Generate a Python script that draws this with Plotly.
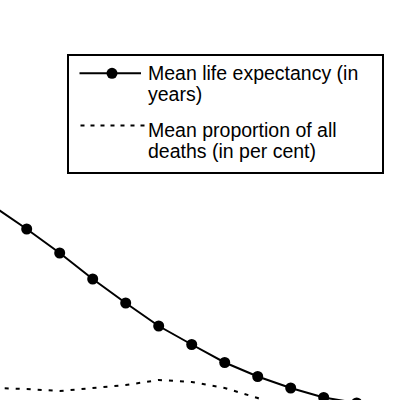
import plotly.graph_objects as go

# ---- data ----
period = [0, 1, 2, 3, 4, 5, 6, 7, 8, 9, 10, 11]
life_expectancy = [40.7, 36.2, 31.4, 26.2, 21.4, 16.8, 13.1, 9.5, 6.7, 4.4, 2.5, 1.4]
death_share = [6.2, 6.1, 5.9, 6.2, 6.5, 7.0, 6.8, 6.2, 5.2, 3.8, 3.2, 2.9]

legend_life = ["Mean life expectancy (in", "years)"]
legend_share = ["Mean proportion of all", "deaths (in per cent)"]

W, H = 400, 400
FONT = dict(family="Liberation Sans, Arial, sans-serif", size=19.5, color="black")

fig = go.Figure()
fig.add_trace(go.Scatter(
    x=period, y=life_expectancy, mode="lines+markers",
    line=dict(color="black", width=2),
    marker=dict(color="black", size=11),
    name=" ".join(legend_life), showlegend=False,
))
fig.add_trace(go.Scatter(
    x=period, y=death_share, mode="lines", yaxis="y2",
    line=dict(color="black", width=2, dash="4px,7px"),
    name=" ".join(legend_share), showlegend=False,
))

def px(x):
    return x / W

def py(y):
    return 1 - y / H

# ---- hand-drawn legend box ----
shapes = [
    dict(type="rect", xref="paper", yref="paper",
         x0=px(68), x1=px(383), y0=py(173), y1=py(55),
         line=dict(color="black", width=2), fillcolor="white", layer="above"),
    dict(type="line", xref="paper", yref="paper",
         x0=px(79.5), x1=px(141), y0=py(73.3), y1=py(73.3),
         line=dict(color="black", width=2), layer="above"),
    dict(type="circle", xref="paper", yref="paper",
         x0=px(112 - 5.5), x1=px(112 + 5.5), y0=py(73.3 - 5.5), y1=py(73.3 + 5.5),
         line=dict(color="black", width=0), fillcolor="black", layer="above"),
    dict(type="line", xref="paper", yref="paper",
         x0=px(80.5), x1=px(145), y0=py(125.5), y1=py(125.5),
         line=dict(color="black", width=2, dash="4px,6px"), layer="above"),
]

annotations = []
for text, yc in [(legend_life[0], 72.5), (legend_life[1], 93.5),
                 (legend_share[0], 129.5), (legend_share[1], 150.5)]:
    annotations.append(dict(
        text=text, xref="paper", yref="paper", x=px(146.5), y=py(yc),
        xanchor="left", yanchor="middle", showarrow=False, font=FONT,
        borderpad=0,
    ))

fig.update_layout(
    width=W, height=H,
    margin=dict(l=0, r=0, t=0, b=0),
    paper_bgcolor="white", plot_bgcolor="white",
    showlegend=False,
    xaxis=dict(range=[0.191, 12.312], visible=False),
    yaxis=dict(range=[2, 82], visible=False),
    yaxis2=dict(range=[5, 45], overlaying="y", visible=False),
    shapes=shapes,
    annotations=annotations,
)

fig.write_html(
    "out.html",
    config=dict(displayModeBar=False),
    post_script="document.body.style.margin='0';document.body.style.overflow='hidden';",
)
